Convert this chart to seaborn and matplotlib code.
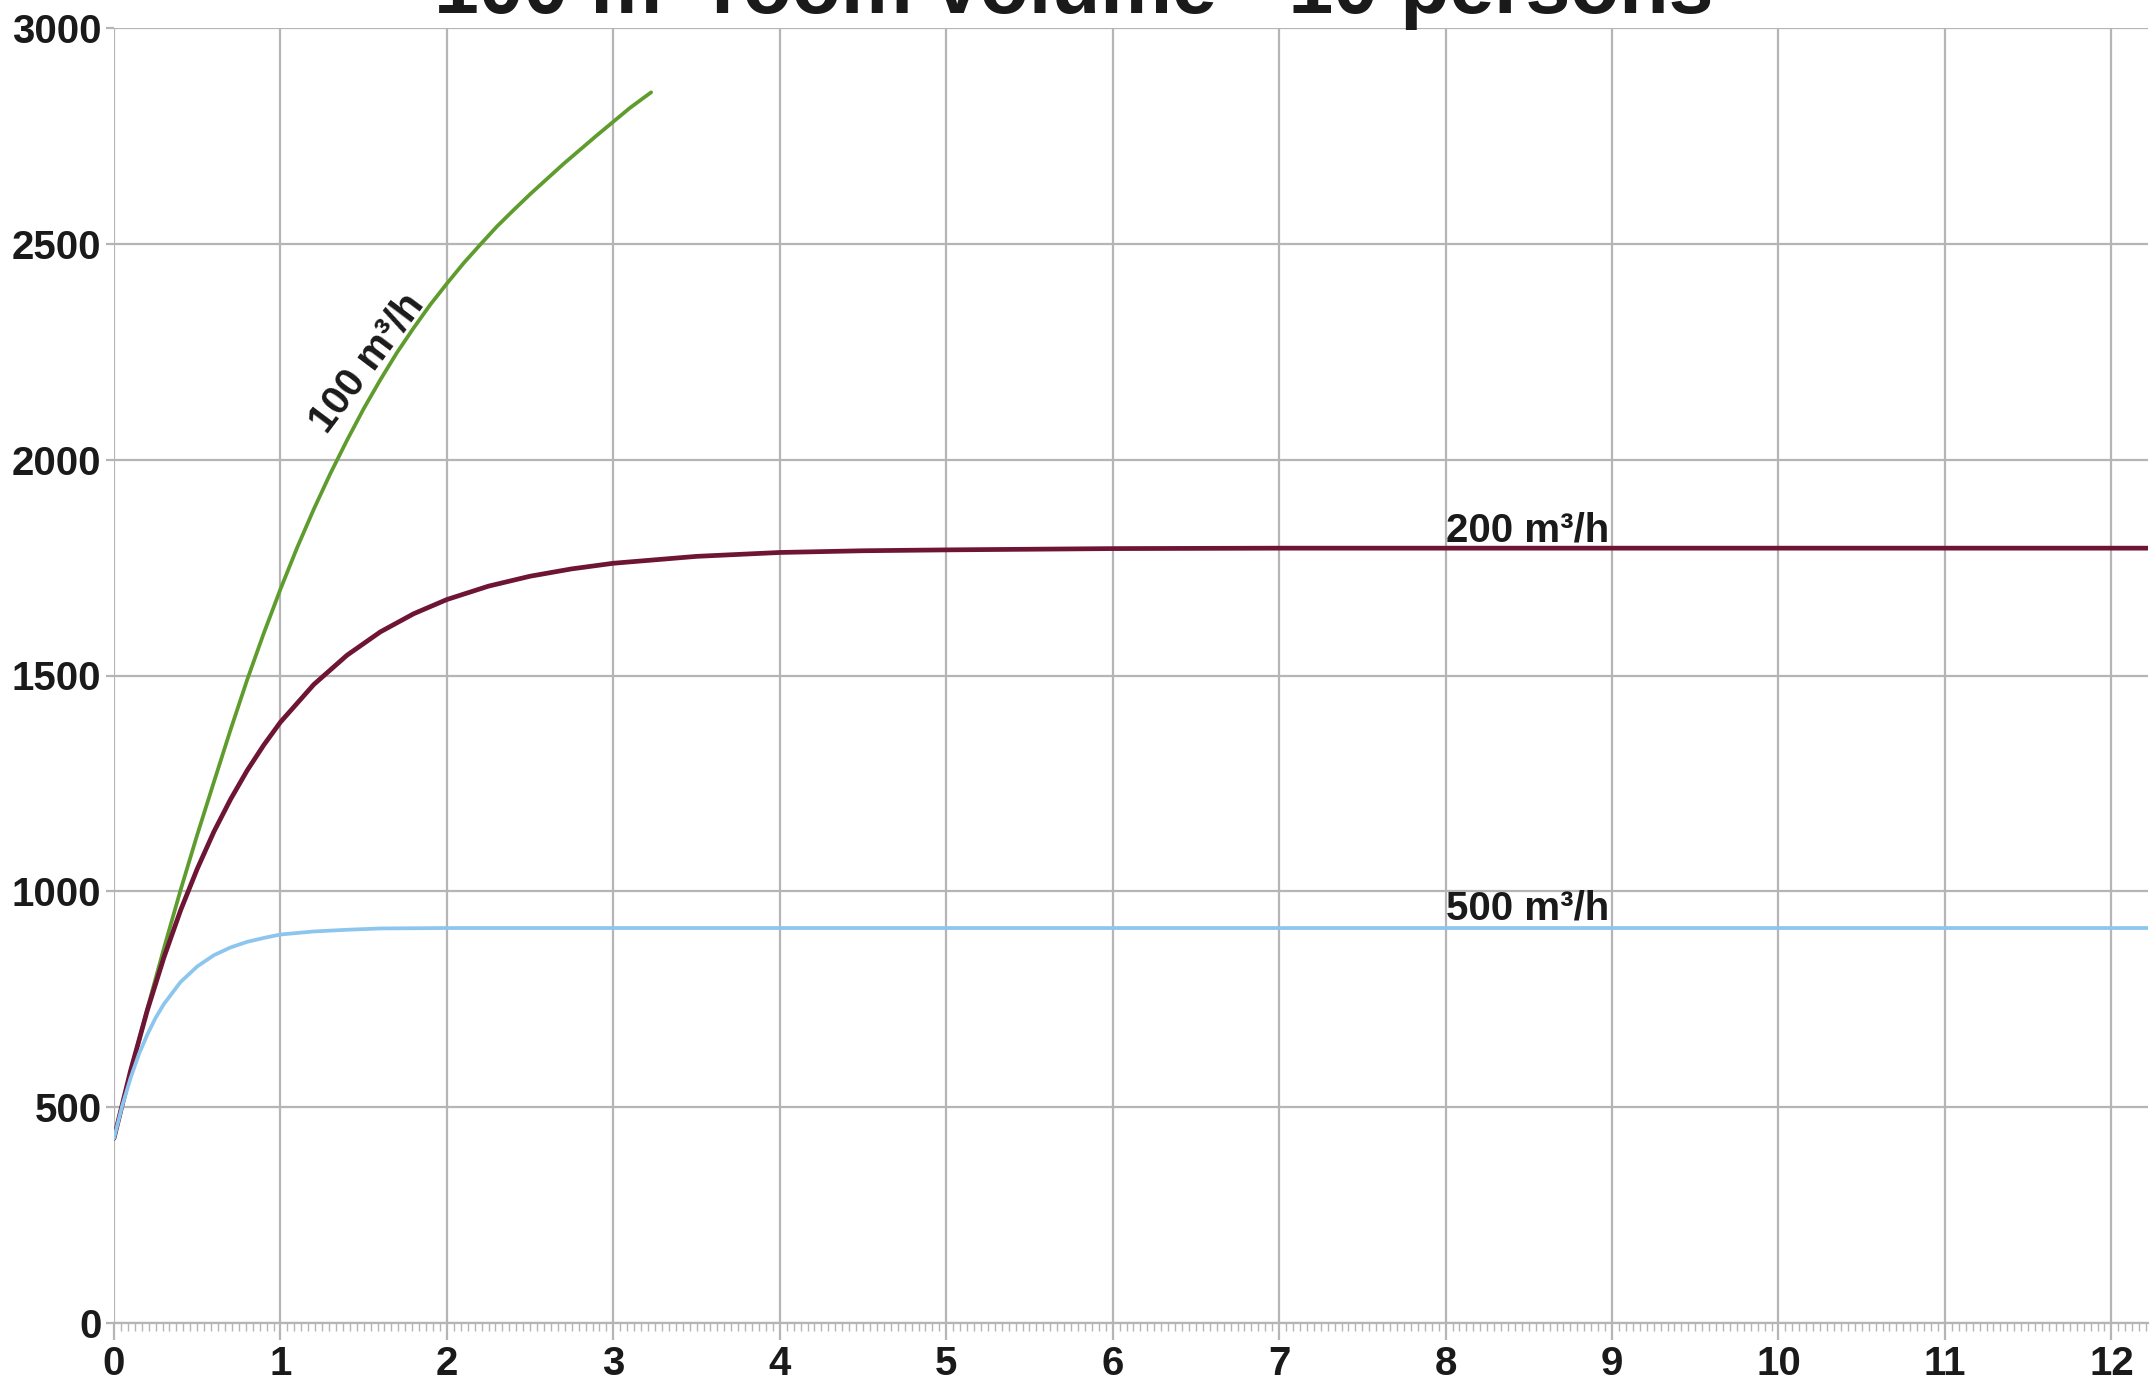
import numpy as np
import pandas as pd
import matplotlib
matplotlib.use("Agg")
import matplotlib.pyplot as plt
from matplotlib.ticker import MultipleLocator
import seaborn as sns

# ---- data ----
title = "100 m³ room volume - 10 persons"

t_100 = [0, 0.1, 0.2, 0.3, 0.4, 0.5, 0.6, 0.7, 0.8, 0.9, 1.0, 1.1, 1.2, 1.3, 1.4, 1.5, 1.6, 1.7,
         1.8, 1.9, 2.0, 2.1, 2.2, 2.3, 2.4, 2.5, 2.6, 2.7, 2.8, 2.9, 3.0, 3.1, 3.227]
c_100 = [428, 583, 728, 868, 1003, 1131, 1253, 1374, 1490, 1598, 1700, 1796, 1885, 1968, 2045, 2118,
         2185, 2248, 2305, 2359, 2408, 2455, 2498, 2540, 2578, 2615, 2650, 2685, 2718, 2751, 2783,
         2815, 2851]

t_200 = [0, 0.1, 0.2, 0.3, 0.4, 0.5, 0.6, 0.7, 0.8, 0.9, 1.0, 1.2, 1.4, 1.6, 1.8, 2.0,
         2.25, 2.5, 2.75, 3.0, 3.5, 4.0, 4.5, 5.0, 6.0, 7.0, 12.22]
c_200 = [428, 585, 724, 847, 956, 1052, 1138, 1213, 1280, 1339, 1392, 1479, 1547, 1601, 1643, 1676,
         1707, 1730, 1747, 1760, 1776, 1785, 1789, 1791, 1794, 1795, 1795]

t_500 = [0, 0.05, 0.1, 0.15, 0.2, 0.25, 0.3, 0.4, 0.5, 0.6, 0.7, 0.8, 0.9, 1.0, 1.2, 1.4, 1.6, 2.0, 12.22]
c_500 = [428, 504, 568, 623, 668, 707, 739, 790, 826, 852, 870, 883, 892, 900, 907, 911, 914, 915, 915]

series_names = ["100 m³/h", "200 m³/h", "500 m³/h"]
x_ticks = list(range(0, 13))
y_ticks = [0, 500, 1000, 1500, 2000, 2500, 3000]

# ---- styling ----
sns.set_style("white")
plt.rcParams["font.family"] = ["Liberation Sans", "DejaVu Sans"]

colors = {"100 m³/h": "#5e9c2e", "200 m³/h": "#6e1434", "500 m³/h": "#8cc6ee"}
widths = {"100 m³/h": 2.7, "200 m³/h": 3.4, "500 m³/h": 2.7}
grid_c = "#b5b5b5"

df = pd.concat([
    pd.DataFrame({"t": t_100, "c": c_100, "series": series_names[0]}),
    pd.DataFrame({"t": t_200, "c": c_200, "series": series_names[1]}),
    pd.DataFrame({"t": t_500, "c": c_500, "series": series_names[2]}),
], ignore_index=True)

fig = plt.figure(figsize=(21.52, 13.86), dpi=100)
ax = fig.add_axes([114 / 2152, 63 / 1386, (2148 - 114) / 2152, (1323 - 28) / 1386])

for name in series_names:
    sub = df[df["series"] == name]
    sns.lineplot(data=sub, x="t", y="c", ax=ax, color=colors[name],
                 linewidth=widths[name], estimator=None, sort=False, legend=False,
                 zorder=3)

ax.set_xlim(0, 12.22)
ax.set_ylim(0, 3000)
ax.set_xticks(x_ticks)
ax.set_yticks(y_ticks)
ax.xaxis.set_minor_locator(MultipleLocator(1 / 24))
ax.set_xlabel("")
ax.set_ylabel("")

ax.grid(True, which="major", color=grid_c, linewidth=1.6, zorder=0)
ax.set_axisbelow(True)
for s in ["top", "right", "left"]:
    ax.spines[s].set_visible(False)
ax.spines["bottom"].set_color(grid_c)
ax.spines["bottom"].set_linewidth(1.6)

ax.tick_params(axis="x", which="major", length=12, width=1.6, color=grid_c,
               pad=4, labelsize=29, direction="out", bottom=True)
ax.tick_params(axis="x", which="minor", length=6, width=1.0, color=grid_c,
               direction="out", bottom=True)
ax.tick_params(axis="y", which="major", length=6, width=1.6, color=grid_c,
               pad=3, labelsize=29, left=True)
for lab in ax.get_xticklabels() + ax.get_yticklabels():
    lab.set_fontweight("bold")
    lab.set_color("#1a1a1a")

# curve labels
ax.text(8.0, 1810, "200 m³/h", fontsize=29, fontweight="bold", color="#1a1a1a",
        ha="left", va="baseline")
ax.text(8.0, 935, "500 m³/h", fontsize=29, fontweight="bold", color="#1a1a1a",
        ha="left", va="baseline")
ax.text(1.52, 2225, "100 m³/h", fontsize=29, fontweight="bold", color="#1a1a1a",
        ha="center", va="center", rotation=53, rotation_mode="anchor")

# title (partly cut at top, as in reference)
fig.text(1074 / 2152, 1 - 13 / 1386, title, fontsize=58, fontweight="bold",
         family=["Liberation Sans Narrow", "Liberation Sans", "DejaVu Sans"],
         ha="center", va="baseline", color="#1a1a1a")

fig.savefig("out.png", dpi=100)
